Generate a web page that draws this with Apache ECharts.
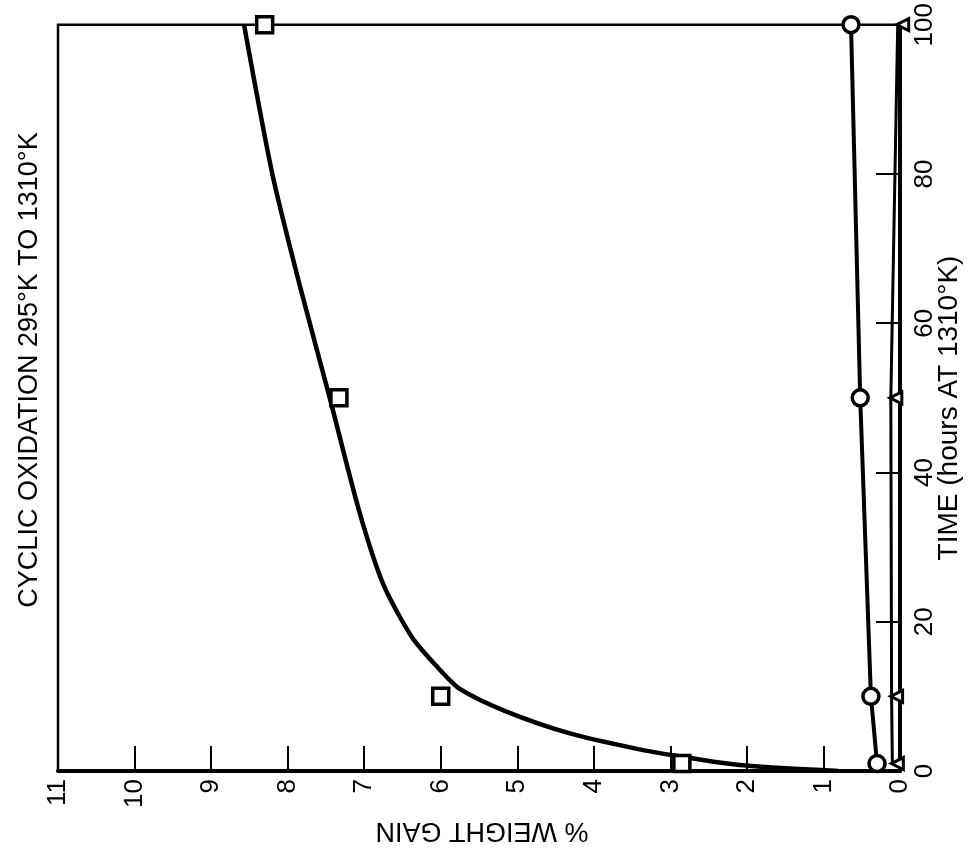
<!DOCTYPE html>
<html>
<head>
<meta charset="utf-8">
<script src="https://cdn.jsdelivr.net/npm/echarts@6/dist/echarts.min.js"></script>
<style>
html,body{margin:0;padding:0;background:#fff;}
#chart{width:968px;height:850px;}
</style>
</head>
<body>
<div id="chart"></div>
<script>
// Fitted curve (square material): time (hours) and % weight gain
var curveTime = [0, 0.8, 2, 3, 5, 8, 11, 14, 18, 25, 35, 50, 65, 80, 100];
var curveGain = [0.8, 2.1, 2.9, 3.45, 4.3, 5.15, 5.75, 6.05, 6.38, 6.75, 7.07, 7.45, 7.84, 8.2, 8.57];
// Measured points
var squareTime = [1, 10, 50, 100];
var squareGain = [2.85, 6.0, 7.33, 8.3];
var circleTime = [1, 10, 50, 100];
var circleGain = [0.30, 0.38, 0.52, 0.64];
var triTime = [1, 10, 50, 100];
var triGain = [0.1, 0.11, 0.12, 0.03];
// Axis texts
var titleText = 'CYCLIC OXIDATION 295°K TO 1310°K';
var timeName = 'TIME (hours AT 1310°K)';
var gainName = '% WEIGHT GAIN';

function pairs(g, t){ return g.map(function(v,i){ return [v, t[i]]; }); }

var font = 'Liberation Sans, Arial, Helvetica, sans-serif';
var chart = echarts.init(document.getElementById('chart'), null, {renderer:'canvas'});
chart.setOption({
  animation: false,
  backgroundColor: '#fff',
  grid: {left: 58, right: 68, top: 15, bottom: 79, show: true, borderColor: '#000', borderWidth: 2.5, backgroundColor: 'transparent'},
  xAxis: {
    type: 'value', min: 0, max: 11, interval: 1, inverse: true, position: 'bottom',
    axisLine: {show: true, lineStyle: {color: '#000', width: 4}},
    axisTick: {show: true, inside: true, length: 25, lineStyle: {color: '#000', width: 2}},
    axisLabel: {rotate: 90, fontSize: 26, color: '#000', margin: 8, fontFamily: font},
    splitLine: {show: false}
  },
  yAxis: {
    type: 'value', min: 0, max: 100, interval: 20, position: 'right',
    axisLine: {show: true, lineStyle: {color: '#000', width: 4}},
    axisTick: {show: true, inside: true, length: 24, lineStyle: {color: '#000', width: 2}},
    axisLabel: {rotate: 90, fontSize: 26, color: '#000', margin: 12, fontFamily: font},
    splitLine: {show: false}
  },
  series: [
    {type: 'line', data: pairs(curveGain, curveTime), smooth: 0.25, showSymbol: false, symbol: 'none',
     lineStyle: {color: '#000', width: 4.5}, z: 2},
    {type: 'scatter', data: pairs(squareGain, squareTime), symbol: 'rect', symbolSize: 16,
     itemStyle: {color: '#fff', borderColor: '#000', borderWidth: 3.5, opacity: 1}, z: 4},
    {type: 'line', data: pairs(circleGain, circleTime), symbol: 'circle', symbolSize: 16, showSymbol: true,
     lineStyle: {color: '#000', width: 4}, itemStyle: {color: '#fff', borderColor: '#000', borderWidth: 3.5, opacity: 1}, z: 3},
    {type: 'line', data: pairs(triGain, triTime), symbol: 'triangle', symbolSize: 12, symbolRotate: 90, symbolOffset: [5, 0], showSymbol: true,
     lineStyle: {color: '#000', width: 3}, itemStyle: {color: '#fff', borderColor: '#000', borderWidth: 3, opacity: 1}, z: 3}
  ],
  graphic: [
    {type: 'text', x: 30, y: 370, rotation: Math.PI / 2,
     style: {text: titleText, font: '27px ' + font, fill: '#000', textAlign: 'center', textVerticalAlign: 'middle'}},
    {type: 'text', x: 949, y: 408, rotation: Math.PI / 2,
     style: {text: timeName, font: '28px ' + font, fill: '#000', textAlign: 'center', textVerticalAlign: 'middle'}},
    {type: 'text', x: 482, y: 830, rotation: Math.PI,
     style: {text: gainName, font: '27px ' + font, fill: '#000', textAlign: 'center', textVerticalAlign: 'middle'}}
  ]
});
</script>
</body>
</html>
